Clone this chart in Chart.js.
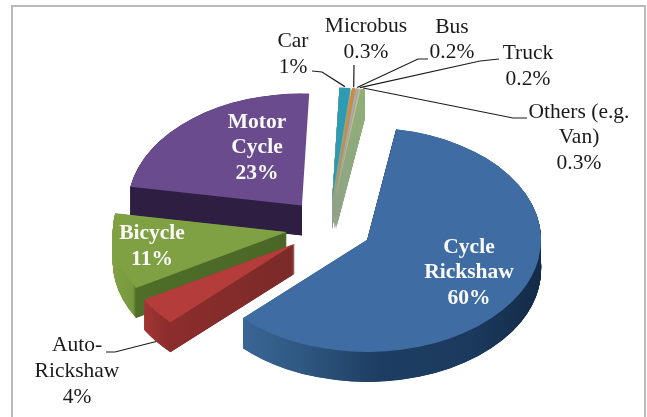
<!DOCTYPE html>
<html>
<head>
<meta charset="utf-8">
<script src="https://cdn.jsdelivr.net/npm/chart.js@4"></script>
<style>
html,body{margin:0;padding:0;background:#fff;}
#wrap{position:relative;width:647px;height:417px;overflow:hidden;}
#frame{position:absolute;left:11px;top:5px;width:631px;height:430px;border:2px solid #b9b9b9;box-sizing:content-box;filter:blur(.4px);}
canvas{position:absolute;left:0;top:0;filter:blur(.4px);}
</style>
</head>
<body>
<div id="wrap"><div id="frame"></div><canvas id="c" width="647" height="417"></canvas></div>
<script>
const categories = ['Cycle Rickshaw','Auto-Rickshaw','Bicycle','Motor Cycle','Car','Microbus','Bus','Truck','Others (e.g. Van)'];
const shares = [60,4,11,23,1,0.3,0.2,0.2,0.3];
const percentLabels = ['60%','4%','11%','23%','1%','0.3%','0.2%','0.2%','0.3%'];
const nameLines = [['Cycle','Rickshaw'],['Auto-','Rickshaw'],['Bicycle'],['Motor','Cycle'],['Car'],['Microbus'],['Bus'],['Truck'],['Others (e.g.','Van)']];
const topColors = ['#3f6da3','#b43d3b','#7fa144','#6a4c8e','#2f9ab3','#d9853b','#a8a6c6','#c4b88e','#8fae78'];

const tilt = 0.644, depth = 30, explode = 43;
const paintOrder = [3,4,5,6,7,8,2,1,0];
const wallStops = [
  [[242,'#3a6595'],[300,'#2f5882'],[380,'#1e3d62'],[470,'#1b3a5e'],[541,'#142b47']],
  [[143,'#a13634'],[168,'#8c2d2c'],[295,'#7a2a29']],
  [[112,'#81a144'],[133,'#78983e'],[136,'#4f6e29'],[290,'#4a6626']],
  [[130,'#2e1f42'],[305,'#2e1f42']],
  [[335,'#8fa288'],[365,'#8fae78']],[[335,'#8fa288'],[365,'#8fae78']],[[335,'#8fa288'],[365,'#8fae78']],[[335,'#8fa288'],[365,'#8fae78']],[[335,'#8fa288'],[365,'#8fae78']]
];
const labelPlace = [
  {x:469,y:247,lh:25.5,bold:true},{x:77,y:345,lh:26,tx:[106,115],ty:[352,352],low:true},
  {x:152,y:233,lh:26,bold:true},{x:257,y:122,lh:25.5,bold:true,clipWall:true},
  {x:293,y:41,lh:26,tx:[312,322],ty:[71,72]},{x:366,y:26,lh:26,tx:[354],ty:[65]},
  {x:452,y:27,lh:25.5,tx:[428,418],ty:[59,59]},{x:528,y:53,lh:26,tx:[499,480],ty:[59,61]},
  {x:579,y:112,lh:25.5,tx:[527,513],ty:[118,118]}
];

const pie3d = {
  id:'pie3d',
  beforeDatasetDraw(chart,args){
    const ctx = chart.ctx, arcs = args.meta.data;
    const cy = arcs[0].y;
    const place = (el,fn)=>{
      const mid = (el.startAngle+el.endAngle)/2;
      ctx.save();
      ctx.translate(0,cy); ctx.scale(1,tilt); ctx.translate(0,-cy);
      ctx.translate(Math.cos(mid)*explode,Math.sin(mid)*explode);
      fn(); ctx.restore();
    };
    const withFill = (el,fill,fn)=>{
      const o = el.options;
      el.options = Object.assign({},o,{backgroundColor:fill,borderWidth:0,offset:0,spacing:0});
      fn(); el.options = o;
    };
    paintOrder.forEach(i=>{
      const el = arcs[i], stops = wallStops[i];
      const a = stops[0][0], b = stops[stops.length-1][0];
      // the fill is resolved after the slice is pulled out, so the gradient is set back by the same shift
      const shift = Math.cos((el.startAngle+el.endAngle)/2)*explode;
      const g = ctx.createLinearGradient(a-shift,0,b-shift,0);
      stops.forEach(s=>g.addColorStop((s[0]-a)/(b-a),s[1]));
      ctx.save();
      if(labelPlace[i].clipWall){
        ctx.beginPath();
        ctx.rect(0,0,el.x+shift,chart.height);
        ctx.clip();
      }
      withFill(el,g,()=>{
        for(let k=depth;k>0;k-=0.25){
          place(el,()=>{ ctx.translate(0,k/tilt); el.draw(ctx); });
        }
      });
      ctx.restore();
      withFill(el,topColors[i],()=>place(el,()=>el.draw(ctx)));
    });
    return false;
  },
  afterDatasetsDraw(chart){
    const ctx = chart.ctx, arcs = chart.getDatasetMeta(0).data;
    const cy = arcs[0].y;
    ctx.save();
    ctx.textAlign='center'; ctx.textBaseline='middle';
    arcs.forEach((el,i)=>{
      const p = labelPlace[i];
      if(p.tx){
        const mid=(el.startAngle+el.endAngle)/2, R=el.outerRadius+explode;
        const ax=el.x+Math.cos(mid)*R, ay=cy+Math.sin(mid)*R*tilt+(p.low?depth:-1);
        ctx.beginPath();
        ctx.moveTo(p.tx[0],p.ty[0]);
        for(let j=1;j<p.tx.length;j++) ctx.lineTo(p.tx[j],p.ty[j]);
        ctx.lineTo(ax,ay);
        ctx.strokeStyle='#1c1c1c'; ctx.lineWidth=1.2; ctx.stroke();
      }
      const lines = nameLines[i].concat(percentLabels[i]);
      ctx.font=(p.bold?'bold ':'')+'21.5px "Liberation Serif"';
      ctx.fillStyle=p.bold?'#fafbf8':'#1a1a1a';
      lines.forEach((t,n)=>ctx.fillText(t,p.x,p.y+n*p.lh));
    });
    ctx.restore();
  }
};

new Chart(document.getElementById('c'),{
  type:'pie',
  data:{labels:categories,datasets:[{data:shares,backgroundColor:topColors,borderWidth:0}]},
  plugins:[pie3d],
  options:{
    responsive:false,animation:false,rotation:9.6,radius:174,
    layout:{padding:{left:11,top:37}},
    plugins:{legend:{display:false},tooltip:{enabled:false}},
    events:[]
  }
});
</script>
</body>
</html>
